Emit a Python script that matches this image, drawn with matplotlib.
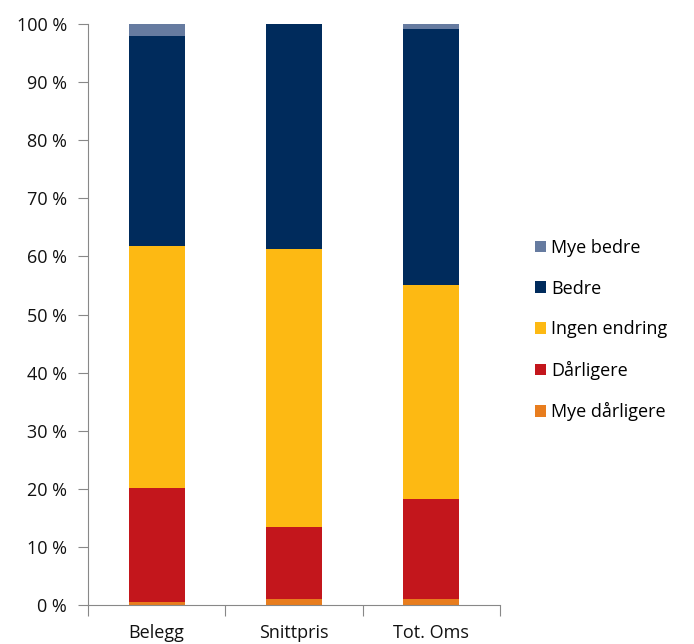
import matplotlib.pyplot as plt
import numpy as np

# kategorier og andeler (%)
categories = ["Belegg", "Snittpris", "Tot. Oms"]
series_names = ["Mye dårligere", "Dårligere", "Ingen endring", "Bedre", "Mye bedre"]
mye_darligere = [0.6, 1.0, 1.0]
darligere = [19.6, 12.4, 17.2]
ingen_endring = [41.6, 47.9, 36.9]
bedre = [36.1, 38.7, 44.0]
mye_bedre = [2.1, 0.0, 0.9]
colors = ["#e87d1e", "#c3161c", "#fdb913", "#002b5c", "#667ba0"]

plt.rcParams['font.family'] = ['Open Sans', 'DejaVu Sans']

fig = plt.figure(figsize=(6.94, 6.44), dpi=100)
ax = fig.add_axes([88 / 694, 1 - 605 / 644, 412 / 694, 581 / 644])

x = np.arange(len(categories))
bottom = np.zeros(len(categories))
for name, vals, c in zip(series_names, [mye_darligere, darligere, ingen_endring, bedre, mye_bedre], colors):
    ax.bar(x, vals, width=0.41, bottom=bottom, color=c, label=name, edgecolor="none")
    bottom += np.array(vals)

ax.set_xlim(-0.5, 2.5)
ax.set_ylim(0, 100)
ax.set_yticks(range(0, 101, 10))
ax.set_yticklabels([f"{v} %" for v in range(0, 101, 10)], fontsize=13, color="#111111")
ax.set_xticks([-0.5, 0.5, 1.5, 2.5])
ax.set_xticklabels([])
ax.set_xticks(x, minor=True)
ax.set_xticklabels(categories, minor=True, fontsize=13, color="#111111")
ax.tick_params(axis="x", which="minor", length=0, pad=14)
ax.tick_params(axis="x", which="major", length=8, color="#888888")
ax.tick_params(axis="y", length=7, color="#888888", pad=8)

for s in ["top", "right"]:
    ax.spines[s].set_visible(False)
for s in ["left", "bottom"]:
    ax.spines[s].set_color("#888888")

handles, labels = ax.get_legend_handles_labels()
ax.legend(handles[::-1], labels[::-1], loc="center left", bbox_to_anchor=(1.085, 0.473),
          frameon=False, fontsize=13, handlelength=0.6, handleheight=0.6,
          handletextpad=0.3, labelspacing=1.25, borderpad=0, borderaxespad=0)

fig.savefig("out.png", dpi=100)
